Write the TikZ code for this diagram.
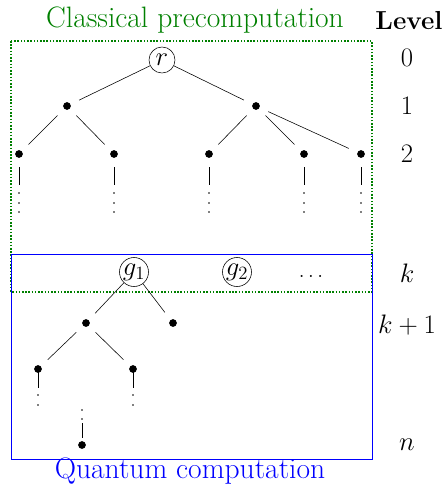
\RequirePackage{fix-cm}
\documentclass[tikz,border=0pt]{standalone}
\usepackage{fontspec}

\tikzset{
  leaf/.style={circle, fill, inner sep=0pt, minimum size=5.5pt, outer sep=6.8pt},
  gnode/.style={circle, draw, inner sep=0.3pt, minimum size=18.5pt, font=\fontsize{19}{20}\selectfont},
  lvl/.style={font=\fontsize{19}{20}\selectfont},
  title/.style={font=\fontsize{21}{22}\selectfont}
}

\begin{document}
\begin{tikzpicture}[x=0.025cm, y=-0.025cm]
  \useasboundingbox (0,0) rectangle (445,488);

  % --- Boxes ---
  \draw[green!50!black, line width=1.1pt, dash pattern=on 1.1pt off 1.2pt] (11,41) rectangle (372,292);
  \draw[blue, line width=0.6pt] (11,254) rectangle (372,459);
  \node[title, text=green!50!black] (ctitle) at (195,20) {Classical precomputation};
  \node[title, text=blue] (qtitle) at (190,471) {Quantum computation};

  % --- Levels ---
  \node[font=\fontsize{18.5}{20}\selectfont\bfseries] (lvhead) at (409,21) {Level};
  \node[lvl] (lv0) at (407,58) {$0$};
  \node[lvl] (lv1) at (407,106) {$1$};
  \node[lvl] (lv2) at (407,154) {$2$};
  \node[lvl] (lvk) at (407,273) {$k$};
  \node[lvl] (lvk1) at (407,325) {$k+1$};
  \node[lvl] (lvn) at (407,445) {$n$};

  % --- Classical part ---
  \node[gnode] (r) at (162,60) {$r$};
  \node[leaf] (a) at (67,106) {};
  \node[leaf] (b) at (256,106) {};
  \node[leaf] (a1) at (19,154) {};
  \node[leaf] (a2) at (114,154) {};
  \node[leaf] (b1) at (209,154) {};
  \node[leaf] (b2) at (304,154) {};
  \node[leaf] (b3) at (361,154) {};

  \draw (r) -- (a);
  \draw (r) -- (b);
  \draw (a) -- (a1);
  \draw (a) -- (a2);
  \draw (b) -- (b1);
  \draw (b) -- (b2);
  \draw (b) -- (b3);

  \foreach \n/\x in {a1/19, a2/114, b1/209, b2/304, b3/361} {
    \draw (\n.south) -- ++(0,17.6);
    \foreach \d in {193,203,212}
      \fill (\x,\d) circle (0.7pt);
  }

  % --- Quantum part ---
  \node[gnode] (g1) at (134,272) {$g_1$};
  \node[gnode] (g2) at (237,272) {$g_2$};
  \node[font=\fontsize{15}{16}\selectfont] (gdots) at (311,276) {$\dots$};
  \node[leaf] (c) at (86,323) {};
  \node[leaf] (d) at (173,323) {};
  \node[leaf] (c1) at (38,369) {};
  \node[leaf] (c2) at (133,369) {};
  \node[leaf] (e) at (82,445) {};

  \draw (g1) -- (c);
  \draw (g1) -- (d);
  \draw (c) -- (c1);
  \draw (c) -- (c2);

  \foreach \n/\x in {c1/38, c2/133} {
    \draw (\n.center) -- ++(0,19);
    \foreach \d in {395,405}
      \fill (\x,\d) circle (0.7pt);
  }
  \draw ([yshift=5pt]e.center) -- ++(0,-15);
  \foreach \d in {410,419}
    \fill (82,\d) circle (0.7pt);

\end{tikzpicture}
\end{document}
